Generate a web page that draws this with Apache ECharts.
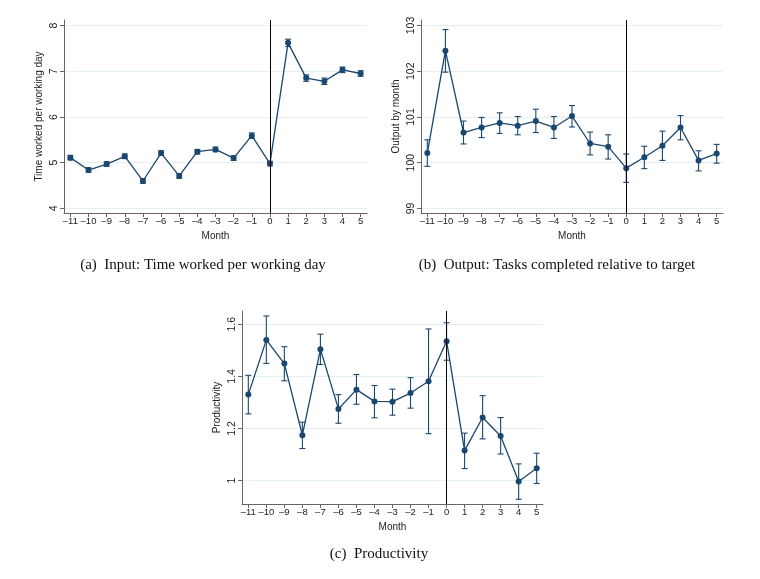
<!DOCTYPE html>
<html><head><meta charset="utf-8">
<script src="https://cdn.jsdelivr.net/npm/echarts@6/dist/echarts.min.js"></script>
<style>html,body{margin:0;padding:0;background:#fff}#c{width:760px;height:579px}</style>
</head><body><div id="c"></div>
<script>
var months = [-11,-10,-9,-8,-7,-6,-5,-4,-3,-2,-1,0,1,2,3,4,5];
var monthTicks = [-11,-10,-9,-8,-7,-6,-5,-4,-3,-2,-1,0,1,2,3,4,5];

var timeWorked = [5.11,4.84,4.97,5.14,4.60,5.21,4.71,5.24,5.29,5.10,5.59,4.98,7.62,6.85,6.78,7.03,6.95];
var timeLo     = [5.06,4.79,4.92,5.09,4.55,5.16,4.66,5.19,5.24,5.05,5.53,4.93,7.54,6.78,6.71,6.97,6.89];
var timeHi     = [5.16,4.89,5.02,5.19,4.65,5.26,4.76,5.29,5.34,5.15,5.65,5.03,7.70,6.92,6.85,7.09,7.01];
var timeTicks  = [4,5,6,7,8];

var output   = [100.21,102.45,100.66,100.77,100.87,100.81,100.91,100.77,101.02,100.42,100.35,99.88,100.12,100.37,100.77,100.05,100.20];
var outputLo = [99.92,101.98,100.41,100.55,100.64,100.61,100.66,100.53,100.78,100.17,100.08,99.57,99.87,100.05,100.50,99.82,99.99];
var outputHi = [100.50,102.91,100.91,100.99,101.09,101.01,101.17,101.01,101.25,100.67,100.61,100.19,100.36,100.69,101.03,100.26,100.40];
var outputTicks = [99,100,101,102,103];

var productivity = [1.330,1.540,1.449,1.174,1.504,1.275,1.349,1.304,1.303,1.336,1.381,1.535,1.115,1.242,1.171,0.996,1.047];
var prodLo       = [1.256,1.450,1.383,1.123,1.446,1.220,1.293,1.241,1.251,1.278,1.180,1.462,1.046,1.160,1.102,0.928,0.989];
var prodHi       = [1.404,1.632,1.514,1.224,1.562,1.330,1.407,1.365,1.351,1.395,1.582,1.606,1.182,1.326,1.242,1.064,1.105];
var prodTicks    = [1, 1.2, 1.4, 1.6];

var navy = '#1a476f';
var axisCol = '#666';
var sans = '"Liberation Sans", Arial, sans-serif';

function fmtNum(v){ return (v < 0 ? '\u2013' + Math.abs(v) : String(v)); }

function xAxisCfg(gi){
  return {
    type:'value', gridIndex:gi, min:-11.35, max:5.35,
    name:'Month', nameLocation:'middle', nameGap:18,
    nameTextStyle:{fontFamily:sans, fontSize:10, color:'#222'},
    axisLine:{show:true, onZero:false, lineStyle:{color:axisCol, width:1}},
    axisTick:{show:true, length:4, customValues:monthTicks, lineStyle:{color:axisCol}},
    axisLabel:{customValues:monthTicks, formatter:fmtNum, fontFamily:sans, fontSize:9.5, color:'#222', margin:3, hideOverlap:false},
    splitLine:{show:false}
  };
}
function yAxisCfg(gi, min, max, ticks, name){
  return {
    type:'value', gridIndex:gi, min:min, max:max,
    name:name, nameLocation:'middle', nameRotate:90, nameGap:20,
    nameTextStyle:{fontFamily:sans, fontSize:10, color:'#222'},
    axisLine:{show:true, onZero:false, lineStyle:{color:axisCol, width:1}},
    axisTick:{show:true, length:4, customValues:ticks, lineStyle:{color:axisCol}},
    axisLabel:{customValues:ticks, rotate:90, fontFamily:sans, fontSize:10.5, color:'#222', margin:4},
    splitLine:{show:true, lineStyle:{color:'#e6eff1', width:1}}
  };
}
function errData(lo, hi){ return months.map(function(m,i){ return [m, lo[i], hi[i]]; }); }
function errSeries(gi, lo, hi){
  return {
    type:'custom', xAxisIndex:gi, yAxisIndex:gi, z:2, silent:true,
    data: errData(lo, hi),
    renderItem: function(params, api){
      var a = api.coord([api.value(0), api.value(1)]);
      var b = api.coord([api.value(0), api.value(2)]);
      var w = 3;
      var st = {stroke:navy, lineWidth:1.1};
      return {type:'group', children:[
        {type:'line', shape:{x1:a[0], y1:a[1], x2:b[0], y2:b[1]}, style:st},
        {type:'line', shape:{x1:a[0]-w, y1:a[1], x2:a[0]+w, y2:a[1]}, style:st},
        {type:'line', shape:{x1:b[0]-w, y1:b[1], x2:b[0]+w, y2:b[1]}, style:st}
      ]};
    }
  };
}
function lineSeries(gi, vals){
  return {
    type:'line', xAxisIndex:gi, yAxisIndex:gi, z:3, silent:true,
    data: months.map(function(m,i){ return [m, vals[i]]; }),
    symbol:'circle', symbolSize:6, showSymbol:true,
    lineStyle:{color:navy, width:1.3}, itemStyle:{color:navy},
    markLine:{silent:true, symbol:'none', label:{show:false},
      lineStyle:{color:'#000', type:'solid', width:1}, data:[{xAxis:0}]},
    animation:false
  };
}

var chart = echarts.init(document.getElementById('c'), null, {renderer:'canvas'});
chart.setOption({
  animation:false,
  backgroundColor:'#fff',
  grid:[
    {left:64, top:20, width:303, height:193},
    {left:421, top:20, width:302, height:193},
    {left:242, top:311, width:301, height:193}
  ],
  xAxis:[xAxisCfg(0), xAxisCfg(1), xAxisCfg(2)],
  yAxis:[
    yAxisCfg(0, 3.9, 8.12, timeTicks, 'Time worked per working day'),
    yAxisCfg(1, 98.9, 103.12, outputTicks, 'Output by month'),
    yAxisCfg(2, 0.91, 1.651, prodTicks, 'Productivity')
  ],
  series:[
    errSeries(0, timeLo, timeHi), lineSeries(0, timeWorked),
    errSeries(1, outputLo, outputHi), lineSeries(1, output),
    errSeries(2, prodLo, prodHi), lineSeries(2, productivity)
  ],
  graphic:[
    {type:'text', x:203, y:265, style:{text:'(a)  Input: Time worked per working day', font:'15px "Liberation Serif", serif', fill:'#111', textAlign:'center', textVerticalAlign:'middle'}},
    {type:'text', x:557, y:265, style:{text:'(b)  Output: Tasks completed relative to target', font:'15px "Liberation Serif", serif', fill:'#111', textAlign:'center', textVerticalAlign:'middle'}},
    {type:'text', x:379, y:554, style:{text:'(c)  Productivity', font:'15px "Liberation Serif", serif', fill:'#111', textAlign:'center', textVerticalAlign:'middle'}}
  ]
});
</script></body></html>
